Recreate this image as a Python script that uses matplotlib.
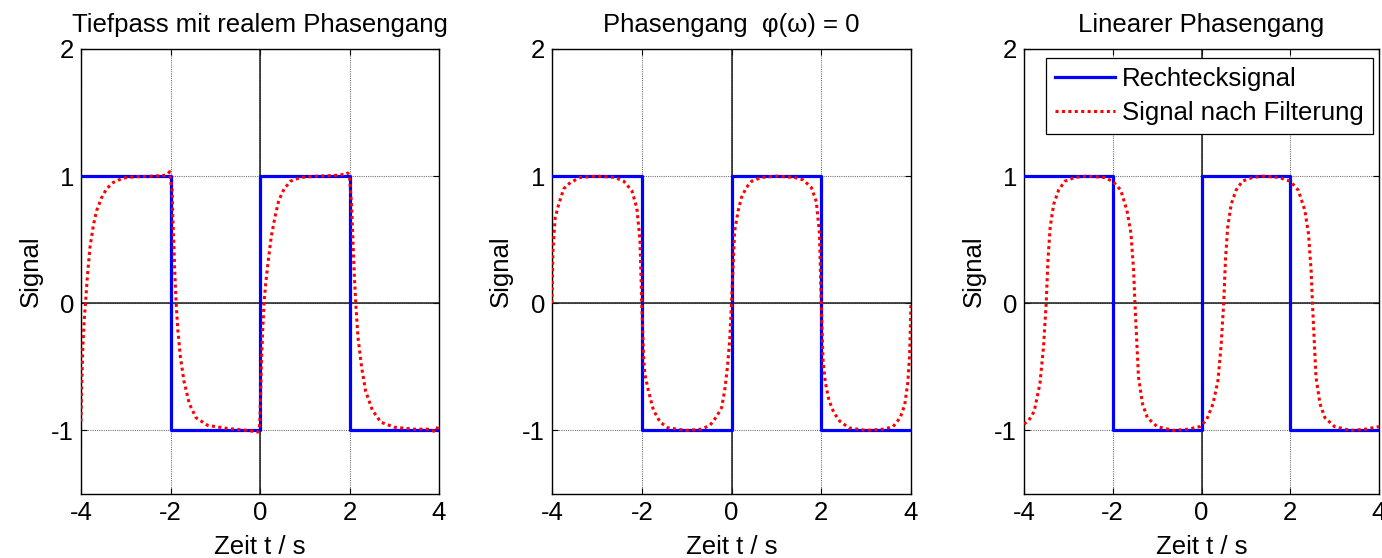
import matplotlib
matplotlib.use("Agg")
import matplotlib.pyplot as plt

plt.rcParams['font.family'] = ['Liberation Sans', 'DejaVu Sans']
plt.rcParams['font.size'] = 18.5
plt.rcParams['axes.unicode_minus'] = False

# Rechtecksignal (Treppenform, Stufen an den Stuetzstellen)
rechteck_t = [-4, -2, 0, 2, 4]
rechteck_y = [1, -1, 1, -1, -1]

# Tiefpass mit realem Phasengang
tp_t = [-4.00, -3.985, -3.96, -3.93, -3.90, -3.86, -3.80, -3.72, -3.65, -3.54, -3.43, -3.28, -3.06, -2.80, -2.40, -2.15, -2.06, -2.02,
        -1.99, -1.963, -1.948, -1.926, -1.903, -1.874, -1.836, -1.78, -1.70, -1.58, -1.43, -1.17, -0.72, -0.27, -0.05, -0.02,
        0.00, 0.03, 0.06, 0.09, 0.126, 0.186, 0.25, 0.335, 0.42, 0.54, 0.68, 0.91, 1.28, 1.65, 1.92, 1.96, 2.00,
        2.045, 2.074, 2.11, 2.14, 2.19, 2.27, 2.36, 2.51, 2.70, 3.00, 3.44, 3.74, 3.93, 4.00]
tp_y = [-0.93, -0.66, -0.35, -0.14, 0.00, 0.20, 0.44, 0.62, 0.73, 0.83, 0.90, 0.95, 0.985, 0.995, 1.00, 1.005, 1.015, 1.035,
        0.95, 0.885, 0.67, 0.47, 0.23, 0.00, -0.21, -0.42, -0.61, -0.79, -0.90, -0.96, -0.985, -1.00, -1.013, -0.99,
        -0.90, -0.48, -0.21, 0.00, 0.15, 0.34, 0.52, 0.68, 0.81, 0.90, 0.96, 0.99, 1.00, 1.005, 1.015, 1.025, 1.00,
        0.78, 0.52, 0.20, 0.00, -0.27, -0.50, -0.69, -0.84, -0.935, -0.975, -0.99, -0.99, -1.01, -0.95]

# Phasengang phi(omega) = 0
null_t = [-4.00, -3.98, -3.93, -3.85, -3.74, -3.59, -3.37, -3.00, -2.60, -2.40, -2.22, -2.11, -2.04, -2.00,
          -1.96, -1.93, -1.85, -1.74, -1.59, -1.41, -1.00, -0.67, -0.48, -0.33, -0.22, -0.15, -0.09, -0.04,
          0.00, 0.04, 0.07, 0.15, 0.22, 0.33, 0.45, 0.67, 1.00, 1.40, 1.60, 1.78, 1.89, 1.96,
          2.00, 2.04, 2.09, 2.17, 2.28, 2.42, 2.62, 3.00, 3.40, 3.60, 3.76, 3.86, 3.93, 3.97, 4.00]
null_y = [0.00, 0.41, 0.67, 0.78, 0.90, 0.95, 0.99, 1.00, 0.99, 0.96, 0.885, 0.75, 0.50, 0.00,
          -0.42, -0.56, -0.69, -0.84, -0.935, -0.98, -1.00, -0.99, -0.96, -0.89, -0.82, -0.68, -0.50, -0.29,
          0.00, 0.33, 0.57, 0.73, 0.83, 0.91, 0.96, 0.99, 1.00, 0.99, 0.97, 0.91, 0.80, 0.55,
          0.00, -0.45, -0.62, -0.76, -0.86, -0.93, -0.98, -1.00, -0.99, -0.97, -0.90, -0.80, -0.62, -0.40, 0.00]

# Linearer Phasengang (Verzoegerung)
lin_t = [-4.00, -3.89, -3.77, -3.64, -3.56, -3.50, -3.46, -3.41, -3.33, -3.22, -3.08, -2.85, -2.60, -2.20,
         -2.00, -1.82, -1.68, -1.59, -1.53, -1.50, -1.46, -1.42, -1.33, -1.22, -1.00, -0.64, -0.30, -0.04,
         0.11, 0.26, 0.37, 0.44, 0.50, 0.54, 0.59, 0.67, 0.78, 0.92, 1.15, 1.40, 1.74, 2.00,
         2.18, 2.33, 2.41, 2.47, 2.50, 2.54, 2.58, 2.67, 2.78, 3.00, 3.36, 3.70, 4.00]
lin_y = [-0.95, -0.92, -0.85, -0.63, -0.34, 0.00, 0.34, 0.60, 0.78, 0.89, 0.96, 0.99, 1.00, 0.99,
         0.96, 0.89, 0.73, 0.55, 0.26, 0.00, -0.29, -0.58, -0.79, -0.90, -0.97, -1.00, -0.99, -0.97,
         -0.92, -0.79, -0.61, -0.34, 0.00, 0.34, 0.60, 0.78, 0.89, 0.96, 0.99, 1.00, 0.99, 0.96,
         0.89, 0.73, 0.55, 0.26, 0.00, -0.29, -0.58, -0.79, -0.90, -0.97, -1.00, -0.99, -0.97]

titles = ["Tiefpass mit realem Phasengang", "Phasengang  φ(ω) = 0", "Linearer Phasengang"]
x_ticks = [-4, -2, 0, 2, 4]
y_ticks = [-1, 0, 1, 2]

W, H = 1382, 558


def panel_rect(left, right, top=49, bottom=494):
    return [left / W, (H - bottom) / H, (right - left) / W, (bottom - top) / H]


def draw_panel(ax, t, y, title):
    ax.plot(rechteck_t, rechteck_y, drawstyle='steps-post', color=(0, 0, 1), lw=2.3,
            label='Rechtecksignal', zorder=3)
    ax.plot(t, y, color=(1, 0, 0), lw=2.2, linestyle=(0, (1, 1.1)),
            label='Signal nach Filterung', zorder=4)
    ax.axhline(0, color='0.1', lw=1.1, zorder=2)
    ax.axvline(0, color='0.1', lw=1.1, zorder=2)
    ax.set_xlim(-4, 4)
    ax.set_ylim(-1.5, 2)
    ax.set_xticks(x_ticks)
    ax.set_yticks(y_ticks)
    ax.grid(True, color='0.45', linestyle=(0, (1, 1)), lw=0.8, zorder=1)
    ax.set_axisbelow(True)
    ax.tick_params(direction='in', length=4, width=0.8, top=True, right=True, pad=5)
    for s in ax.spines.values():
        s.set_linewidth(1.0)
        s.set_color('k')
    ax.set_title(title, fontsize=18.5, pad=12)
    ax.set_xlabel('Zeit t / s')
    ax.set_ylabel('Signal')
    ax.xaxis.set_label_coords(0.5, -0.092)
    ax.yaxis.set_label_coords(-0.108, 0.5)


fig = plt.figure(figsize=(W / 100, H / 100), dpi=100)
ax1 = fig.add_axes(panel_rect(81, 439))
ax2 = fig.add_axes(panel_rect(552, 911))
ax3 = fig.add_axes(panel_rect(1024, 1379))

draw_panel(ax1, tp_t, tp_y, titles[0])
draw_panel(ax2, null_t, null_y, titles[1])
draw_panel(ax3, lin_t, lin_y, titles[2])

leg = ax3.legend(loc='upper right', bbox_to_anchor=(1 - 6 / 355, 1 - 9 / 445), borderaxespad=0,
                 fancybox=False, framealpha=1, edgecolor='k', handlelength=2.3,
                 handletextpad=0.3, labelspacing=0.4, borderpad=0.35)
leg.get_frame().set_linewidth(0.9)

fig.savefig('out.png', dpi=100)
